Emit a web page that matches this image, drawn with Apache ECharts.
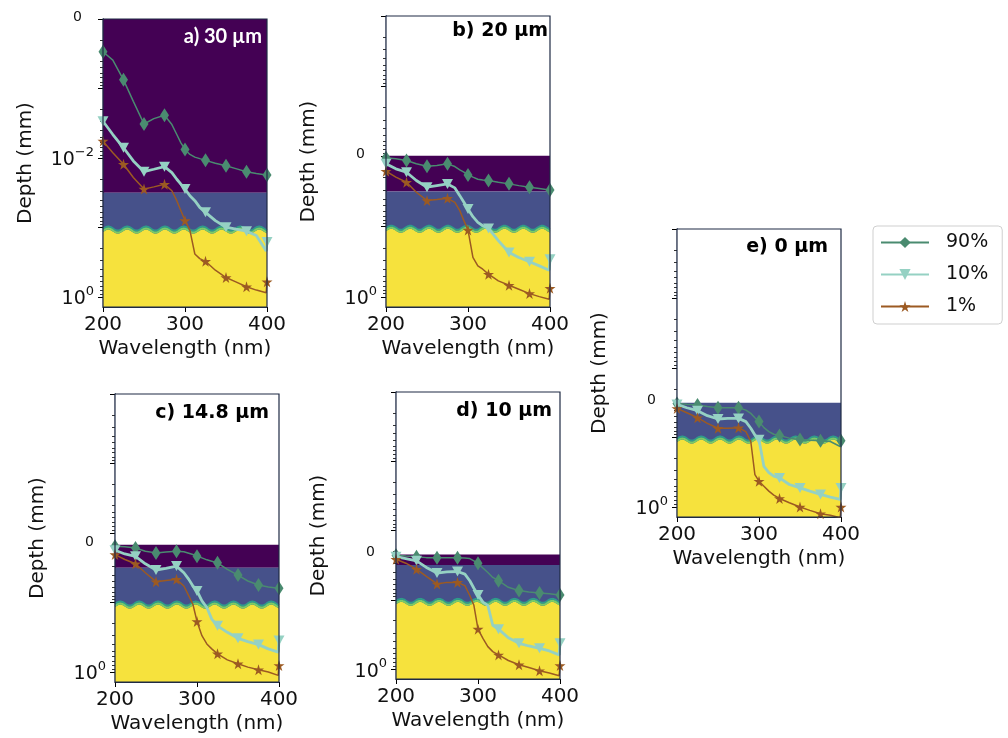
<!DOCTYPE html>
<html><head><meta charset="utf-8">
<script src="https://cdn.jsdelivr.net/npm/echarts@6/dist/echarts.min.js"></script>
<style>html,body{margin:0;padding:0;background:#fff}#c{width:1008px;height:738px}</style>
</head><body><div id="c"></div>
<script>
// ---------------- data ----------------
const wavelengths = [200,212,225,237,250,262,275,284,290,295,300,306,312,318,325,337,350,362,375,387,399,400];
const markerWavelengths = [200,225,250,275,300,325,350,375,400];
const seriesNames = ['90%','10%','1%'];
const panelTitles = ['a) 30 µm','b) 20 µm','c) 14.8 µm','d) 10 µm','e) 0 µm'];
// depth axis value (mm) where each panel's surface sits
const surfaceDepth = [1.001e-4, 0.0098, 0.0147, 0.0222, 0.0315];
// layer boundaries (mm): purple/blue, blue/yellow
const layerBounds = [0.0315, 0.107];

// panel a
const a90 = [2.96e-4,3.9e-4,7.5e-4,1.53e-3,3.24e-3,2.71e-3,2.43e-3,3.3e-3,4.59e-3,6.04e-3,7.52e-3,8.87e-3,9.7e-3,0.0102,0.0108,0.0119,0.0129,0.0142,0.0158,0.0167,0.0175,0.0175];
const a10 = [2.96e-3,4.59e-3,7.12e-3,0.011,0.0157,0.0145,0.0133,0.0162,0.0202,0.0238,0.028,0.0349,0.0411,0.0512,0.0604,0.0794,0.0989,0.1057,0.113,0.13,0.218,0.162];
const a1  = [5.71e-3,8.39e-3,0.0123,0.0191,0.028,0.026,0.0238,0.0296,0.0411,0.0572,0.0794,0.11,0.24,0.28,0.306,0.411,0.524,0.604,0.711,0.794,0.867,0.604];
// panel b
const b90 = [0.01045,0.0108,0.0114,0.0127,0.01374,0.01345,0.01274,0.0139,0.0155,0.0167,0.01828,0.0197,0.0211,0.0216,0.02203,0.0233,0.02455,0.026,0.0274,0.0286,0.0299,0.0299];
const b10 = [0.01274,0.015,0.01675,0.022,0.0274,0.026,0.0246,0.028,0.0361,0.0449,0.056,0.072,0.0867,0.0968,0.1057,0.158,0.233,0.274,0.316,0.361,0.416,0.29];
const b1  = [0.0162,0.0197,0.0233,0.0323,0.0425,0.0411,0.0394,0.0449,0.059,0.082,0.1116,0.274,0.36,0.403,0.474,0.59,0.681,0.777,0.896,0.989,1.08,0.752];
// panel c
const c90 = [0.0155,0.0158,0.0164,0.0183,0.0193,0.0188,0.0183,0.0186,0.0195,0.0204,0.0216,0.0228,0.0243,0.0254,0.0268,0.0334,0.0403,0.049,0.056,0.0597,0.0624,0.0624];
const c10 = [0.0177,0.02,0.0216,0.0277,0.0341,0.0323,0.0299,0.0373,0.0464,0.0578,0.0681,0.0946,0.118,0.173,0.216,0.268,0.327,0.365,0.403,0.464,0.518,0.353];
const c1  = [0.0204,0.024,0.0277,0.0373,0.0501,0.048,0.0464,0.0578,0.0803,0.1057,0.187,0.3,0.394,0.464,0.547,0.667,0.76,0.849,0.927,1.0,1.116,0.803];
// panel d
const d90 = [0.0228,0.0233,0.0238,0.0246,0.0246,0.0246,0.0246,0.0249,0.0254,0.0274,0.0296,0.0348,0.0403,0.0475,0.053,0.0659,0.0736,0.0769,0.0794,0.082,0.0849,0.0849];
const d10 = [0.0238,0.0254,0.0274,0.0341,0.0411,0.0394,0.039,0.0425,0.053,0.0681,0.0849,0.108,0.12,0.233,0.265,0.353,0.425,0.464,0.501,0.547,0.624,0.425];
const d1  = [0.026,0.0296,0.0361,0.0459,0.059,0.056,0.056,0.0624,0.0867,0.12,0.265,0.361,0.474,0.56,0.624,0.752,0.867,0.95,1.056,1.14,1.245,0.887];
// panel e
const e90 = [0.0323,0.0332,0.0341,0.0357,0.0373,0.0373,0.0373,0.0403,0.0449,0.0518,0.059,0.072,0.082,0.0896,0.0936,0.102,0.107,0.109,0.1116,0.114,0.1345,0.1116];
const e10 = [0.0334,0.0373,0.0411,0.0485,0.0541,0.053,0.053,0.059,0.0736,0.0916,0.108,0.26,0.32,0.36,0.381,0.474,0.53,0.59,0.659,0.72,0.777,0.53];
const e1  = [0.0381,0.044,0.0518,0.0624,0.0736,0.0736,0.0723,0.082,0.114,0.341,0.425,0.501,0.59,0.674,0.752,0.867,1.0,1.116,1.245,1.315,1.42,1.0];

const panelSeries = [[a90,a10,a1],[b90,b10,b1],[c90,c10,c1],[d90,d10,d1],[e90,e10,e1]];

// tick labels
const xTickValues = [200,300,400];
const yMajorTicks = [1.001e-4,1e-3,1e-2,1e-1,1];
const yLabelValues = [[1.001e-4,0.01,1],[0.0098,1],[0.0147,1],[0.0222,1],[0.0315,1]];
const yLabelTexts = [[['0',''],['10','−2'],['10','0']],[['0',''],['10','0']],[['0',''],['10','0']],[['0',''],['10','0']],[['0',''],['10','0']]];

// ---------------- style ----------------
const Y_MIN = 1e-4, Y_MAX = 1.39;
const grids = [
  {left:103, top:19, width:164, height:288},
  {left:386, top:16, width:164, height:291},
  {left:115, top:394, width:164, height:288},
  {left:396, top:392, width:164, height:287},
  {left:677, top:229, width:164, height:288}
];
const titlePos = [
  {right:746, top:27, color:'#ffffff', font:'Lato', size:20},
  {right:460, top:22, color:'#000000', font:'DejaVu Sans', size:19},
  {right:739, top:404, color:'#000000', font:'DejaVu Sans', size:19},
  {right:456, top:402, color:'#000000', font:'DejaVu Sans', size:19},
  {right:180, top:238, color:'#000000', font:'DejaVu Sans', size:19}
];
const lineColors = ['#4a8b70','#95d1c3','#9c5a22'];
const lineWidths = [1.5,2.8,1.5];
const symbols = ['diamond','path://M0,0L10,0L5,9Z','path://M50,0L61,35L98,35L68,57L79,91L50,70L21,91L32,57L2,35L39,35Z'];
const symbolSizes = [[9,14],[11,10],[11,11]];
const PURPLE='#440154', BLUE='#46518a', YELLOW='#f6e23d', FRAME='#1f2a44';
const WAVE_AMP = 2, WAVE_PERIOD = 23, WAVE_PHASE = 206.5;
const FONT = 'DejaVu Sans';

const yMinorTicks = [];
for (let k=-4;k<0;k++) for (let m=2;m<=9;m++) yMinorTicks.push(m*Math.pow(10,k));

function bgRender(p){
  return function(params, api){
    const L = api.coord([200, Y_MIN]), R = api.coord([400, Y_MAX]);
    const xL=L[0], xR=R[0], yT=L[1], yB=R[1], w=xR-xL;
    const ys = api.coord([200, surfaceDepth[p]])[1];
    const y1 = api.coord([200, layerBounds[0]])[1];
    const y2 = api.coord([200, layerBounds[1]])[1];
    const ch = [];
    if (ys > yT+0.5) ch.push({type:'rect', shape:{x:xL,y:yT,width:w,height:ys-yT}, style:{fill:'#fff'}});
    if (y1 > ys+0.5) ch.push({type:'rect', shape:{x:xL,y:ys,width:w,height:y1-ys}, style:{fill:PURPLE}});
    const yb0 = Math.max(ys,y1);
    ch.push({type:'rect', shape:{x:xL,y:yb0,width:w,height:yB-yb0}, style:{fill:BLUE}});
    const top=[], l1=[], l2=[];
    for (let nm=200; nm<=400.001; nm+=0.5){
      const px = api.coord([nm, layerBounds[1]])[0];
      const off = -WAVE_AMP*Math.cos(2*Math.PI*(nm-WAVE_PHASE)/WAVE_PERIOD);
      l1.push([px, y2+off-1]); l2.push([px, y2+off+1]); top.push([px, y2+off+2]);
    }
    ch.push({type:'polygon', shape:{points: top.concat([[xR,yB],[xL,yB]])}, style:{fill:YELLOW}});
    ch.push({type:'polyline', shape:{points:l1}, style:{stroke:'#2f9c8a', lineWidth:2, fill:null}});
    ch.push({type:'polyline', shape:{points:l2}, style:{stroke:'#79cd66', lineWidth:2, fill:null}});
    return {type:'group', children:ch};
  };
}
function frameRender(params, api){
  const L = api.coord([200, Y_MIN]), R = api.coord([400, Y_MAX]);
  return {type:'rect', shape:{x:L[0],y:L[1],width:R[0]-L[0],height:R[1]-L[1]}, style:{fill:null, stroke:FRAME, lineWidth:1.2}};
}

const option = {animation:false, title:[], grid:[], xAxis:[], yAxis:[], series:[],
  legend:{
    data: seriesNames, orient:'vertical', left:873, top:226,
    itemWidth:48, itemHeight:14, itemGap:13,
    padding:[7,14,8,7], borderColor:'#cfcfcf', borderWidth:1, borderRadius:4,
    textStyle:{fontSize:19, fontFamily:FONT, color:'#111', padding:[0,0,0,12]}
  }
};

grids.forEach((g,p)=>{
  option.grid.push(Object.assign({containLabel:false}, g));
  option.title.push({text:panelTitles[p], right:titlePos[p].right, top:titlePos[p].top, padding:0,
    textStyle:{fontFamily:titlePos[p].font, fontWeight:'bold', fontSize:titlePos[p].size, color:titlePos[p].color}});
  option.xAxis.push({type:'value', gridIndex:p, min:200, max:400, interval:100,
    axisLine:{show:true, onZero:false, lineStyle:{color:FRAME, width:1.2}}, splitLine:{show:false},
    axisTick:{show:true, length:5, lineStyle:{color:'#000', width:1}},
    axisLabel:{fontSize:20, fontFamily:FONT, color:'#111', margin:8, showMinLabel:true, showMaxLabel:true},
    name:'Wavelength (nm)', nameLocation:'middle', nameGap:32,
    nameTextStyle:{fontSize:20, fontFamily:FONT, color:'#111'}});
  const labVals = yLabelValues[p], labTxt = yLabelTexts[p];
  option.yAxis.push({type:'log', logBase:10, gridIndex:p, min:Y_MIN, max:Y_MAX, inverse:true, position:'left',
    axisLine:{show:true, onZero:false, lineStyle:{color:FRAME, width:1.2}}, splitLine:{show:false},
    axisTick:{show:true, length:5, customValues:yMajorTicks, lineStyle:{color:'#000', width:1}},
    axisLabel:{show:true, margin:9, customValues:labVals,
      formatter:function(v){
        let best=0, bd=Infinity;
        labVals.forEach((lv,i)=>{const d=Math.abs(Math.log10(lv)-Math.log10(v)); if(d<bd){bd=d;best=i;}});
        const t = labTxt[best];
        return t[1] ? '{b|'+t[0]+'}{s|'+t[1]+'}' : '{z|'+t[0]+'}';
      },
      rich:{
        b:{fontSize:19, fontFamily:FONT, color:'#111', lineHeight:24, verticalAlign:'bottom'},
        s:{fontSize:13, fontFamily:FONT, color:'#111', lineHeight:13, verticalAlign:'top'},
        z:{fontSize:14, fontFamily:FONT, color:'#111', padding:[0,12,4,0]}
      }},
    name:'Depth (mm)', nameLocation:'middle', nameGap:67, nameRotate:90,
    nameTextStyle:{fontSize:20, fontFamily:FONT, color:'#111'}});
  option.yAxis.push({type:'log', logBase:10, gridIndex:p, min:Y_MIN, max:Y_MAX, inverse:true, position:'left',
    axisLine:{show:true, onZero:false, lineStyle:{color:FRAME, width:1.2}}, splitLine:{show:false}, axisLabel:{show:false},
    axisTick:{show:true, length:3, customValues:yMinorTicks, lineStyle:{color:'#000', width:0.8}}});

  option.series.push({type:'custom', xAxisIndex:p, yAxisIndex:2*p, silent:true, z:1, clip:false,
    renderItem:bgRender(p), data:[[300,0.01]]});
  panelSeries[p].forEach((vals,s)=>{
    option.series.push({type:'line', name:seriesNames[s], xAxisIndex:p, yAxisIndex:2*p, z:3+s,
      clip:true, showAllSymbol:true, symbol:symbols[s], symbolSize:symbolSizes[s],
      lineStyle:{color:lineColors[s], width:lineWidths[s]},
      itemStyle:{color:lineColors[s]},
      data: wavelengths.map((x,i)=> markerWavelengths.indexOf(x)>=0 ? {value:[x, vals[i]]} : {value:[x, vals[i]], symbol:'none'})
    });
  });
  option.series.push({type:'custom', xAxisIndex:p, yAxisIndex:2*p, silent:true, z:8, clip:false,
    renderItem:frameRender, data:[[300,0.01]]});
});

const chart = echarts.init(document.getElementById('c'), null, {renderer:'canvas'});
chart.setOption(option);
</script>
</body></html>
